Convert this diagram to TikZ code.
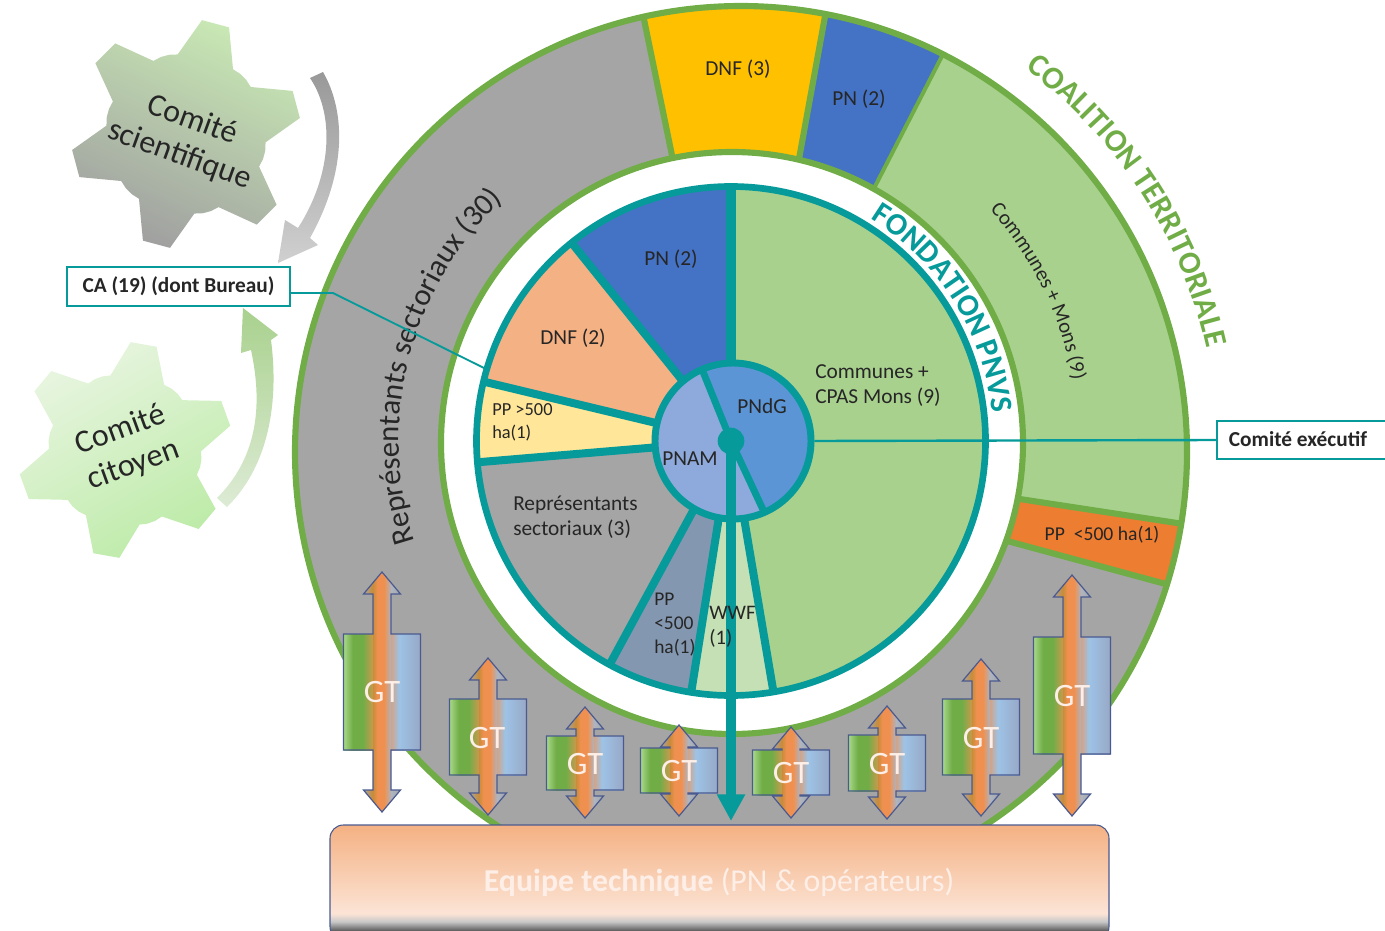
\documentclass[tikz,border=0pt]{standalone}
\usepackage{fontspec}
\setmainfont{Carlito}
\usetikzlibrary{decorations.text,arrows.meta,shadings,calc}
\definecolor{teal}{HTML}{069A9A}
\definecolor{ringgreen}{HTML}{70AD47}
\definecolor{lightgreen}{HTML}{A9D18E}
\definecolor{palegreen}{HTML}{C5E0B4}
\definecolor{midgray}{HTML}{A5A5A5}
\definecolor{pnblue}{HTML}{4472C4}
\definecolor{dnfyellow}{HTML}{FFC000}
\definecolor{ppgorange}{HTML}{ED7D31}
\definecolor{dnfpeach}{HTML}{F4B183}
\definecolor{ppyellow}{HTML}{FFE699}
\definecolor{ppslate}{HTML}{8497B0}
\definecolor{pndg}{HTML}{5B95D5}
\definecolor{pnam}{HTML}{8EA9DB}
\definecolor{gtedge}{HTML}{4A5A90}
\definecolor{skyb}{HTML}{9DC3E6}
\definecolor{periw}{HTML}{8FAADC}
\definecolor{palegt}{HTML}{A8D98A}
\definecolor{darkbar}{HTML}{5A5A5A}
\definecolor{lightbar}{HTML}{C8C8C8}
\definecolor{peach1}{HTML}{FCE4D6}
\definecolor{peach2}{HTML}{F8CBAD}
\definecolor{gearA}{HTML}{C8E8B4}
\definecolor{gearB}{HTML}{A0A0A0}
\definecolor{gearC}{HTML}{E8F5E0}
\definecolor{gearD}{HTML}{BDEBA8}
\definecolor{arrA}{HTML}{999999}
\definecolor{arrB}{HTML}{D0D0D0}
\definecolor{arrC}{HTML}{A9D18E}
\definecolor{arrD}{HTML}{DDEBD5}
\pgfdeclarehorizontalshading{gtrect}{100bp}{color(0bp)=(palegt); color(25bp)=(palegt); color(31bp)=(ringgreen); color(37.5bp)=(ringgreen); color(47bp)=(ppgorange!85!white); color(53bp)=(ppgorange!85!white); color(61bp)=(skyb); color(75bp)=(periw!60!midgray); color(100bp)=(periw!60!midgray)}
\pgfdeclarehorizontalshading{gtarrow}{100bp}{color(0bp)=(midgray); color(25bp)=(midgray); color(37.5bp)=(ppgorange!70!ringgreen); color(44bp)=(ppgorange!85!white); color(53bp)=(ppgorange!85!white); color(62.5bp)=(ppgorange!20!skyb); color(75bp)=(midgray); color(100bp)=(midgray)}
\pgfdeclareverticalshading{equipefill}{100bp}{color(0bp)=(darkbar); color(25bp)=(darkbar); color(29bp)=(darkbar); color(33bp)=(lightbar); color(36.5bp)=(peach1); color(55bp)=(peach2); color(75bp)=(dnfpeach); color(100bp)=(dnfpeach)}
\tikzset{
 lab/.style={font=\fontsize{16}{18.5}\selectfont, text=black!85, inner sep=0pt},
 smalllab/.style={font=\fontsize{13.8}{17.5}\selectfont, text=black!85, inner sep=0pt, align=left, anchor=west},
 leftlab/.style={lab, align=left, anchor=west},
 box/.style={draw=teal, line width=1.6pt, fill=white, font=\fontsize{16}{18}\bfseries\selectfont, text=black!85},
 spoke/.style={draw=teal, line width=6pt},
 sep/.style={draw=ringgreen, line width=4.6pt},
 gtlab/.style={font=\fontsize{24.5}{27}\selectfont, text=peach1!60!white, inner sep=0pt},
 geartxt/.style={font=\fontsize{24}{28}\selectfont, text=black!85, align=center, inner sep=0pt},
}
% gear outline: #1 centre, #2 first tooth angle (display degrees), #3 inner radius, #4 outer radius
\newcommand{\geartrace}[4]{%
 ($(#1)+(-#2-21:#3)$) \foreach \ga [evaluate=\ga as \aa using -#2+\ga] in {0,60,...,300}{%
  -- ($(#1)+(\aa-21:#3)$) -- ($(#1)+(\aa-7:#4)$) -- ($(#1)+(\aa+7:#4)$) -- ($(#1)+(\aa+21:#3)$)%
  -- ($(#1)+(\aa+27:#3+1)$) -- ($(#1)+(\aa+33:#3+1)$)%
 } -- cycle%
}
\newcommand{\gtunit}[5]{% cx, recttop, rectbot, arrowtop, arrowbot
 \path[shading=gtrect] (#1-38.5,#2) rectangle (#1+38.5,#3);
 \path[shading=gtarrow]
  (#1,#4) -- (#1+18.5,#4+22) -- (#1+9,#4+22) -- (#1+9,#5-22) -- (#1+18.5,#5-22) -- (#1,#5)
  -- (#1-18.5,#5-22) -- (#1-9,#5-22) -- (#1-9,#4+22) -- (#1-18.5,#4+22) -- cycle;
 \draw[gtedge,line width=.9pt]
  (#1,#4) -- (#1+18.5,#4+22) -- (#1+9,#4+22) -- (#1+9,#2) -- (#1+38.5,#2) -- (#1+38.5,#3) -- (#1+9,#3)
  -- (#1+9,#5-22) -- (#1+18.5,#5-22) -- (#1,#5)
  -- (#1-18.5,#5-22) -- (#1-9,#5-22) -- (#1-9,#3) -- (#1-38.5,#3) -- (#1-38.5,#2) -- (#1-9,#2)
  -- (#1-9,#4+22) -- (#1-18.5,#4+22) -- cycle;
}
\begin{document}
\begin{tikzpicture}[x=.75pt,y=-.75pt]
\useasboundingbox (0,0) rectangle (1385,931);
\coordinate (oc) at (741,452);
\coordinate (wc) at (732,443);
\coordinate (c) at (731,441);
% outer ring
\fill[midgray] (oc) circle (446);
\begin{scope}
 \clip (oc) circle (446);
 \fill[dnfyellow] (640,0) -- (828,0) -- (797,170) -- (675,170) -- cycle;
 \fill[pnblue] (828,0) -- (958,25) -- (868,200) -- (797,170) -- cycle;
 \fill[lightgreen] (958,25) -- (1300,25) -- (1300,541) -- (1000,496) -- (868,200) -- cycle;
 \fill[ppgorange] (1000,496) -- (1200,526.5) -- (1190,590.6) -- (1000,539) -- cycle;
 \draw[sep] (640,0) -- (675,170);
 \draw[sep] (828,0) -- (797,170);
 \draw[sep,line width=3pt] (958,25) -- (868,200);
 \draw[sep] (1000,496) -- (1200,526.5);
 \draw[sep] (1000,539) -- (1190,590.6);
\end{scope}
\draw[ringgreen,line width=4.6pt] (oc) circle (446);
\fill[white] (wc) circle (291);
\draw[ringgreen,line width=4.6pt] (wc) circle (291);
% inner pie
\begin{scope}
 \clip (c) circle (254.5);
 \fill[lightgreen] (c) -- (731,100) -- (1100,100) -- (1100,800) -- (790,800) -- cycle;
 \fill[pnblue] (c) -- (731,100) -- ($(c)+(-128.8:320)$) -- cycle;
 \fill[dnfpeach] (c) -- ($(c)+(-128.8:320)$) -- ($(c)+(-166.5:320)$) -- cycle;
 \fill[ppyellow] (c) -- ($(c)+(-166.5:320)$) -- ($(c)+(-184.8:320)$) -- cycle;
 \fill[midgray] (c) -- ($(c)+(-184.8:320)$) -- ($(c)+(-214:400)$) -- ($(c)+(-241.5:320)$) -- cycle;
 \fill[ppslate] (c) -- ($(c)+(-241.5:320)$) -- ($(c)+(-261:320)$) -- cycle;
 \fill[palegreen] (c) -- ($(c)+(-261:320)$) -- ($(c)+(-279.6:320)$) -- cycle;
 \foreach \a in {-128.8,-166.5,-184.8,-241.5,-261,-279.6}
  \draw[spoke] (c) -- ($(c)+(\a:320)$);
 \draw[spoke,line width=7pt] (c) -- ($(c)+(-90:320)$);
\end{scope}
\draw[teal,line width=5pt] (c) circle (254.5);
% hub
\fill[pnam] (733,441) circle (78);
\begin{scope}
 \clip (733,441) circle (78);
 \fill[pndg] (c) -- ($(c)+(-112:140)$) -- ($(c)+(-60:180)$) -- ($(c)+(30:180)$) -- ($(c)+(-295:140)$) -- cycle;
 \draw[spoke,line width=5.2pt] (c) -- ($(c)+(-112:140)$);
 \draw[spoke,line width=5.2pt] (c) -- ($(c)+(-295:140)$);
\end{scope}
\node[circle,draw=teal,line width=5.2pt,minimum size=117pt,inner sep=0pt] (hub) at (733,441) {};
\node[circle,fill=teal,minimum size=20pt,inner sep=0pt] (dot) at (c) {};
% ring labels
\node[lab] (t1) at (738,69) {DNF (3)};
\node[lab] (t2) at (859,99) {PN (2)};
\node[lab,font=\fontsize{14.7}{17}\selectfont] (t3) at (1102,535) {PP\ \ <500 ha(1)};
\node[lab] (t4) at (671,259) {PN (2)};
\node[lab] (t5) at (573,338) {DNF (2)};
\node[smalllab] (t6) at (492,422) {PP >500\\ha(1)};
\node[leftlab] (t7) at (815,385.5) {Communes +\\CPAS Mons (9)};
\node[lab] (t8) at (762,406) {PNdG};
\node[lab] (t9) at (690,459) {PNAM};
\node[leftlab] (t10) at (513,517) {Représentants\\sectoriaux (3)};
\node[leftlab,font=\fontsize{14.6}{18}\selectfont] (t11) at (654,625) {PP\\<500\\ha(1)};
% curved titles
\path[decorate,decoration={text along path,text align=center,
  text={|\fontsize{23.4}{26}\bfseries\selectfont\color{teal}|FONDATION PNVS}}]
  plot[domain=68:-4,samples=50] ({731+263*cos(\x)},{441-263*sin(\x)});
\path[decorate,decoration={text along path,text align=center,
  text={|\fontsize{23.8}{26}\bfseries\selectfont\color{ringgreen}|COALITION TERRITORIALE}}]
  plot[domain=57:9,samples=50] ({741+477*cos(\x)},{452-477*sin(\x)});
\path[decorate,decoration={text along path,text align=center,
  text={|\fontsize{23}{26}\selectfont\color{black!85}|Représentants sectoriaux (30)}}]
  plot[domain=205.5:125.5,samples=60] ({731+332*cos(\x)},{441-332*sin(\x)});
\path[decorate,decoration={text along path,text align=center,
  text={|\fontsize{15.7}{18}\selectfont\color{black!85}|Communes + Mons (9)}}]
  plot[domain=52.4:-0.6,samples=50] ({731+347*cos(\x)},{441-347*sin(\x)});
% gears
\coordinate (g1) at (186,134);
\coordinate (g2) at (125,450);
\path[top color=gearA,bottom color=gearB,shading angle=-25] \geartrace{g1}{15}{80}{115};
\path[top color=gearC,bottom color=gearD,shading angle=30] \geartrace{g2}{20}{76}{108};
\node[geartxt,rotate=-20] (gs) at (186,138) {Comité\\scientifique};
\node[geartxt,rotate=20] (gc) at (127,448) {Comité\\citoyen};
% curved arrows
\path[top color=arrA,bottom color=arrB]
 (310,78) -- (323,72) .. controls (345,110) and (348,170) .. (310,238) -- (318,245) -- (278,263) -- (285,220) -- (298,228) .. controls (332,175) and (335,115) .. (310,78) -- cycle;
\path[top color=arrC,bottom color=arrD]
 (217,498) -- (227,507) .. controls (265,470) and (280,410) .. (271,340) -- (278,335) -- (243,308) -- (241,353) -- (251,350) .. controls (264,410) and (255,460) .. (217,498) -- cycle;
% boxes
\node[box,minimum width=167pt,minimum height=29pt,inner sep=0pt] (ca) at (178.5,286.5) {CA (19) (dont Bureau)};
\coordinate (kink) at (333,293);
\coordinate (cend) at (486,369);
\draw[teal,line width=1.4pt] (ca.east |- kink) -- (kink) -- (cend);
\node[box,minimum width=130pt,minimum height=28.5pt,inner sep=0pt] (ex) at (1303.5,440) {};
\node[font=\fontsize{16}{18}\bfseries\selectfont,text=black!85,inner sep=0pt] (ext) at (1298,439) {Comité exécutif};
\draw[teal,line width=1.8pt] (hub.east) -- (ex.west);
% GT units
\gtunit{382}{634}{750}{572}{812}
\gtunit{488}{699}{775}{658}{815}
\gtunit{585}{736}{790}{707}{818}
\gtunit{679}{748}{793}{725}{816}
\gtunit{791}{750}{795}{727}{818}
\gtunit{887}{735}{791}{706}{819}
\gtunit{981}{699}{775}{659}{816}
\gtunit{1072}{637}{754}{575}{816}
\node[gtlab] (gt1) at (382,692) {GT};
\node[gtlab] (gt2) at (487,738) {GT};
\node[gtlab] (gt3) at (585,764) {GT};
\node[gtlab] (gt4) at (679,771) {GT};
\node[gtlab] (gt5) at (791,773) {GT};
\node[gtlab] (gt6) at (887,764) {GT};
\node[gtlab] (gt7) at (981,738) {GT};
\node[gtlab] (gt8) at (1072,696) {GT};
% equipe
\path[shading=equipefill,draw=gtedge,line width=.8pt,rounded corners=10pt] (330,825) rectangle (1109,940);
\node[font=\fontsize{23.9}{26}\selectfont,text=peach1!60!white,inner sep=0pt] (eq) at (719,882) {\textbf{Equipe technique} (PN \& opérateurs)};
% main arrow
\coordinate (arrtip) at (731,821);
\draw[teal,line width=7pt,-{Triangle[length=20pt,width=20pt]}] (dot.center) -- (arrtip);
% label lying over the arrow
\node[leftlab,font=\fontsize{15.5}{19}\selectfont] (t12) at (709,627) {WWF\\(1)};
\end{tikzpicture}
\end{document}
